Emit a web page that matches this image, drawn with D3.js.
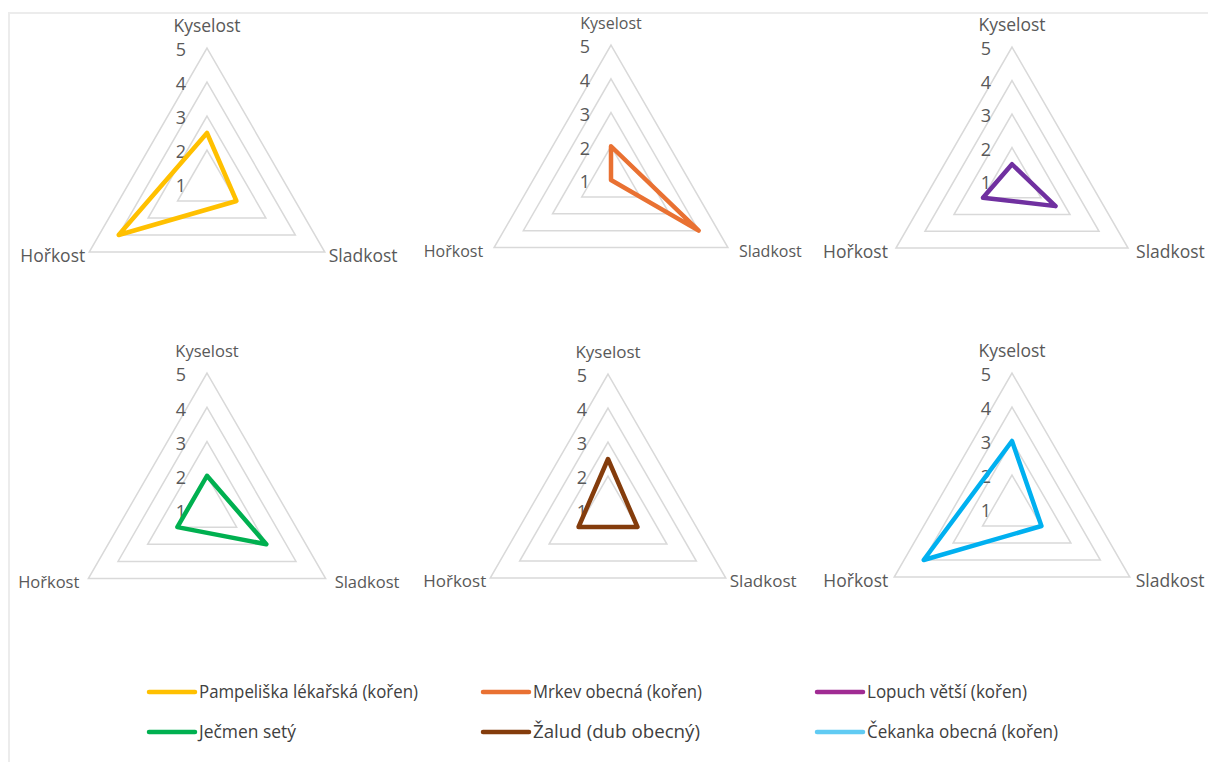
<!DOCTYPE html>
<html lang="cs">
<head>
<meta charset="utf-8">
<script src="https://cdn.jsdelivr.net/npm/d3@7"></script>
<style>
  html, body { margin: 0; padding: 0; background: #ffffff; }
  svg { display: block; }
</style>
</head>
<body>
<svg id="chart" width="1208" height="762"></svg>
<script>
// Taste profile axes (clockwise from the top)
const categories = ["Kyselost", "Sladkost", "Hořkost"];

// One series per plant, values in category order
const seriesNames = [
  "Pampeliška lékařská (kořen)",
  "Mrkev obecná (kořen)",
  "Lopuch větší (kořen)",
  "Ječmen setý",
  "Žalud (dub obecný)",
  "Čekanka obecná (kořen)"
];
const pampeliska = [2.5, 2, 4];
const mrkev      = [2, 4, 1];
const lopuch     = [1.5, 2.5, 2];
const jecmen     = [2, 3, 2];
const zalud      = [2.5, 2, 2];
const cekanka    = [3, 2, 4];
const seriesValues = [pampeliska, mrkev, lopuch, jecmen, zalud, cekanka];

// Radial value axis
const tickValues = [1, 2, 3, 4, 5];
const tickLabels = ["1", "2", "3", "4", "5"];
const axisMin = 1, axisMax = 5;

// Line colours in the plots and legend swatch colours
const lineColors   = ["#FFC000", "#E97132", "#7030A0", "#00B050", "#843C0C", "#00B0F0"];
const legendColors = ["#FFC000", "#E97132", "#A02B93", "#00B050", "#843C0C", "#61CBF3"];

// Panel geometry (centre, outer radius, label gap, label font size)
const panels = [
  { cx: 207,  cy: 184, R: 136, gap: 4,  fs: 17.5 },
  { cx: 611,  cy: 180, R: 135, gap: 11, fs: 16 },
  { cx: 1012, cy: 181, R: 134, gap: 8,  fs: 17.5 },
  { cx: 207,  cy: 510, R: 137, gap: 9,  fs: 16.5 },
  { cx: 608,  cy: 510, R: 136, gap: 4,  fs: 17 },
  { cx: 1012, cy: 509, R: 136, gap: 6,  fs: 17.5 }
];

// Legend text is set in a narrow style; these are the run widths
const legendTextWidths = [219, 169, 160, 97, 167, 191];

const svg = d3.select("#chart");
const textColor = "#595959";
const font = "'Open Sans', 'Noto Sans', sans-serif";

// Outer chart-area frame
svg.append("rect")
  .attr("x", 9).attr("y", 13)
  .attr("width", 1400).attr("height", 1000)
  .attr("fill", "none")
  .attr("stroke", "#ececec")
  .attr("stroke-width", 2);

const angleStep = 2 * Math.PI / categories.length;

seriesValues.forEach((vals, i) => {
  const p = panels[i];
  const r = d3.scaleLinear().domain([axisMin, axisMax]).range([0, p.R]);
  const radial = d3.lineRadial()
    .angle((d, k) => k * angleStep)
    .radius(d => r(d))
    .curve(d3.curveLinearClosed);

  const g = svg.append("g").attr("transform", `translate(${p.cx},${p.cy})`);

  // Gridline triangles
  g.selectAll("path.grid")
    .data(tickValues.filter(v => v > axisMin))
    .join("path")
    .attr("class", "grid")
    .attr("d", v => radial(categories.map(() => v)))
    .attr("fill", "none")
    .attr("stroke", "#d9d9d9")
    .attr("stroke-width", 1.5);

  // Value labels beside the top axis
  g.selectAll("text.tick")
    .data(tickValues)
    .join("text")
    .attr("class", "tick")
    .attr("x", -21)
    .attr("y", v => -r(v) + 2)
    .attr("dy", "0.35em")
    .attr("text-anchor", "end")
    .attr("font-family", font)
    .attr("font-size", 18)
    .attr("fill", textColor)
    .text((v, k) => tickLabels[k]);

  // Series polygon
  g.append("path")
    .attr("d", radial(vals))
    .attr("fill", "none")
    .attr("stroke", lineColors[i])
    .attr("stroke-width", 4.5)
    .attr("stroke-linejoin", "round");

  // Category labels
  const outer = r(axisMax);
  categories.forEach((c, k) => {
    const a = k * angleStep;
    const x = outer * Math.sin(a);
    const y = -outer * Math.cos(a);
    const t = g.append("text")
      .attr("font-family", font)
      .attr("font-size", p.fs)
      .attr("fill", textColor)
      .attr("dy", "0.35em")
      .text(c);
    if (k === 0) {
      t.attr("x", 0).attr("y", y - 22).attr("text-anchor", "middle");
    } else if (x > 0) {
      t.attr("x", x + p.gap).attr("y", y + 3.5).attr("text-anchor", "start");
    } else {
      t.attr("x", x - p.gap).attr("y", y + 3.5).attr("text-anchor", "end");
    }
  });
});

// Legend: three columns, two rows
const legendCols = [149, 483, 817];
const legendRows = [692, 732];
const legend = svg.append("g");
seriesNames.forEach((name, i) => {
  const x0 = legendCols[i % 3];
  const y0 = legendRows[Math.floor(i / 3)];
  legend.append("line")
    .attr("x1", x0).attr("x2", x0 + 46)
    .attr("y1", y0).attr("y2", y0)
    .attr("stroke", legendColors[i])
    .attr("stroke-width", 4.5)
    .attr("stroke-linecap", "round");
  legend.append("text")
    .attr("x", x0 + 50)
    .attr("y", y0)
    .attr("dy", "0.35em")
    .attr("font-family", font)
    .attr("font-size", 18.5)
    .attr("fill", "#404040")
    .attr("textLength", legendTextWidths[i])
    .attr("lengthAdjust", "spacingAndGlyphs")
    .text(name);
});
</script>
</body>
</html>
